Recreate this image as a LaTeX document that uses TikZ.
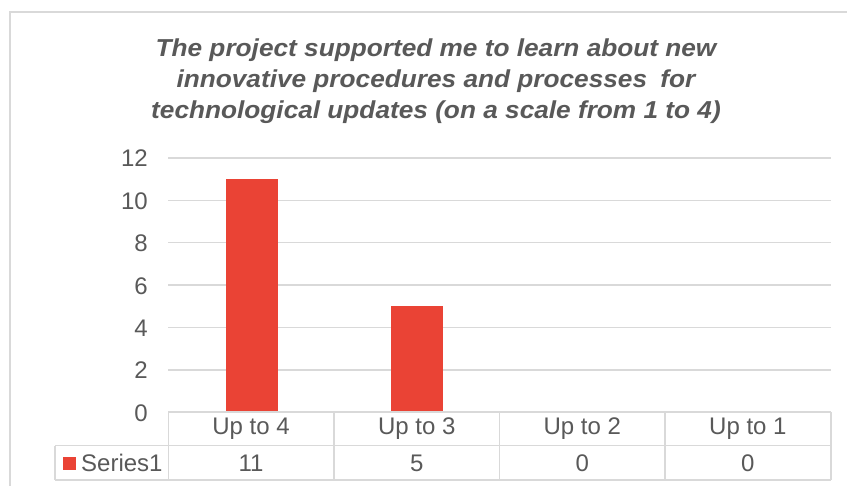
\documentclass[tikz,border=0pt]{standalone}
\usepackage{fontspec}
\setmainfont{Liberation Sans}
\newfontfamily\titlefont[FakeStretch=1.07]{Liberation Sans}
\definecolor{txt}{HTML}{595959}
\definecolor{grid}{HTML}{D9D9D9}
\definecolor{bar}{HTML}{EA4335}
\begin{document}
\begin{tikzpicture}[x=1pt,y=-1pt,
  titletext/.style={anchor=base,text=txt,font=\titlefont\fontsize{24.5}{28}\selectfont\bfseries\itshape,inner sep=0},
  axlabel/.style={anchor=east,text=txt,font=\fontsize{24}{28}\selectfont,inner sep=0},
  celltext/.style={anchor=center,text=txt,font=\fontsize{24}{28}\selectfont,inner sep=0},
  gridline/.style={draw=grid,line width=1.3pt},
  tableline/.style={draw=grid,line width=1.6pt},
  barbox/.style={fill=bar,draw=none}]
\useasboundingbox (0,0) rectangle (847,486);
\fill[white] (0,0) rectangle (847,486);
% chart border
\draw[draw=grid,line width=1.2pt] (10,486) -- (10,12) -- (847,12);
% title
\node[titletext] (t1) at (436,56.5) {The project supported me to learn about new};
\node[titletext] (t2) at (436,88) {innovative procedures and processes\hspace{0.25em} for};
\node[titletext] (t3) at (436,118.5) {technological updates (on a scale from 1 to 4)};
% gridlines and y labels
\foreach \v in {2,4,6,8,10,12}{
  \draw[gridline] (168.3,{412.3-21.2*\v}) -- (830.7,{412.3-21.2*\v});
}
\foreach \v in {0,2,4,6,8,10,12}{
  \node[axlabel] (y\v) at (148,{413-21.2*\v}) {\v};
}
% bars
\fill[barbox] (226,412.3) rectangle (278,178.8);
\fill[barbox] (391.3,412.3) rectangle (443.3,306.3);
% data table
\draw[tableline] (168.3,412.3) -- (830.7,412.3);
\draw[tableline] (55,445.7) -- (830.7,445.7);
\draw[tableline] (55,480) -- (830.7,480);
\draw[tableline] (55,445.7) -- (55,480);
\foreach \x in {168.3,333.9,499.5,665.1,830.7}{
  \draw[tableline] (\x,412.3) -- (\x,480);
}
\node[celltext] (c1) at (251.1,429) {Up to 4};
\node[celltext] (c2) at (416.7,429) {Up to 3};
\node[celltext] (c3) at (582.3,429) {Up to 2};
\node[celltext] (c4) at (747.9,429) {Up to 1};
\fill[bar] (63.3,457.3) rectangle (76,470) coordinate (legsq);
\node[celltext,anchor=west] (s1) at (81,463) {Series1};
\node[celltext] (d1) at (251.1,463) {11};
\node[celltext] (d2) at (416.7,463) {5};
\node[celltext] (d3) at (582.3,463) {0};
\node[celltext] (d4) at (747.9,463) {0};
\end{tikzpicture}
\end{document}
